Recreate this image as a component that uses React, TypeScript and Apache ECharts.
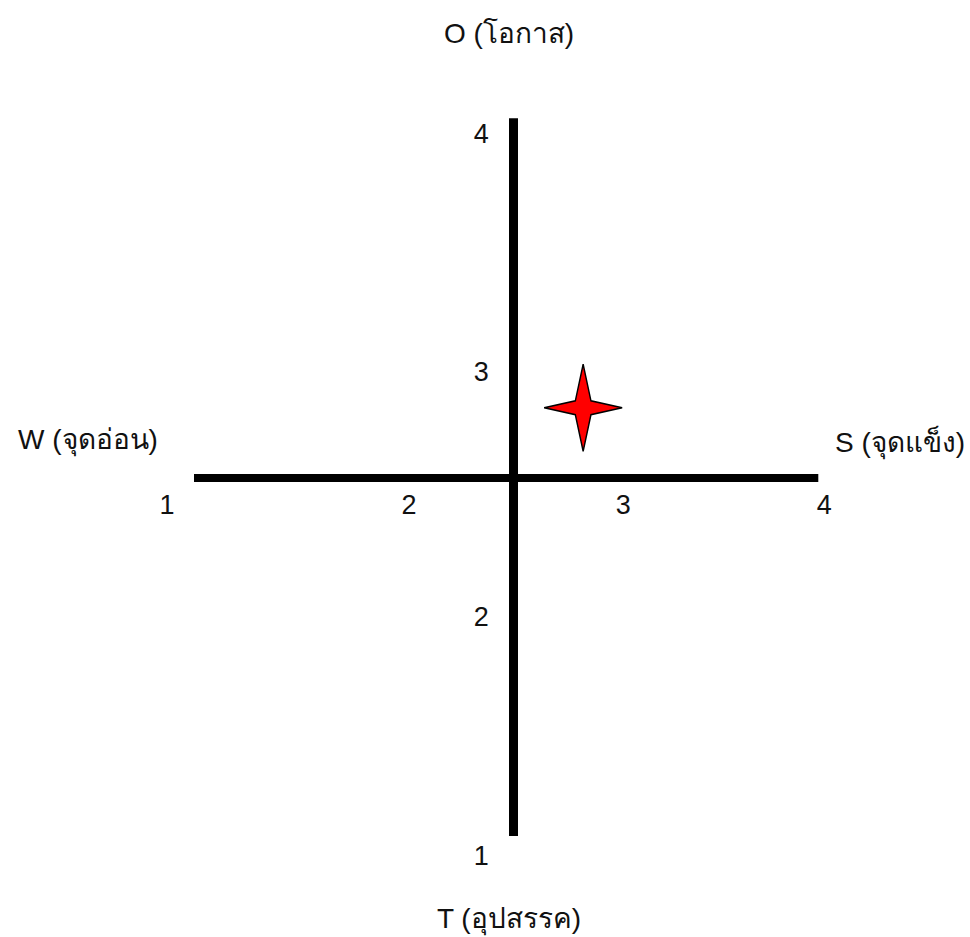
import React, { useEffect, useRef } from "react";
import * as echarts from "echarts";

// ---- data ----
const xTickLabels: string[] = ["1", "2", "3", "4"];
const yTickLabels: string[] = ["1", "2", "3", "4"];
const axisMin = 1;
const axisMax = 4;
const pointData: number[][] = [[2.87, 2.79]];
const titleTop = "O (โอกาส)";
const titleBottom = "T (อุปสรรค)";
const titleLeft = "W (จุดอ่อน)";
const titleRight = "S (จุดแข็ง)";

const FONT = "'Liberation Sans', 'Noto Sans', Arial, sans-serif";

export default function App() {
  const ref = useRef<HTMLDivElement>(null);
  useEffect(() => {
    if (!ref.current) return;
    const chart = echarts.init(ref.current, null, { renderer: "svg" });
    const gridLeft = 194;
    const gridRight = 151.7;
    const gridTop = 118.3;
    const gridBottom = 101;
    const titleSize = 28;
    const option: any = {
      animation: false,
      backgroundColor: "#ffffff",
      textStyle: { fontFamily: FONT },
      grid: { left: gridLeft, right: gridRight, top: gridTop, bottom: gridBottom },
      xAxis: {
        type: "value",
        min: axisMin,
        max: axisMax,
        interval: 1,
        position: "bottom",
        offset: -358.5,
        axisLine: { show: true, lineStyle: { color: "#000", width: 8, cap: "butt" } },
        axisTick: { show: false },
        splitLine: { show: false },
        axisLabel: {
          margin: 14,
          fontSize: 27,
          color: "#111",
          fontFamily: FONT,
          formatter: (v: number) => `{s${v}|${xTickLabels[v - axisMin]}}`,
          rich: {
            s1: { fontSize: 27, fontFamily: FONT, color: "#111", padding: [0, 54, 0, 0] },
            s2: { fontSize: 27, fontFamily: FONT, color: "#111", padding: [0, 0, 0, 14] },
            s3: { fontSize: 27, fontFamily: FONT, color: "#111", padding: [0, 0, 0, 26] },
            s4: { fontSize: 27, fontFamily: FONT, color: "#111", padding: [0, 0, 0, 12] },
          },
        },
      },
      yAxis: {
        type: "value",
        min: axisMin,
        max: axisMax,
        interval: 1,
        position: "left",
        offset: -318.8,
        axisLine: { show: true, lineStyle: { color: "#000", width: 9, cap: "butt" } },
        axisTick: { show: false },
        splitLine: { show: false },
        axisLabel: {
          margin: 24,
          fontSize: 27,
          color: "#111",
          fontFamily: FONT,
          formatter: (v: number) => `{s${v}|${yTickLabels[v - axisMin]}}`,
          rich: {
            s1: { fontSize: 27, fontFamily: FONT, color: "#111", padding: [40, 0, 0, 0] },
            s2: { fontSize: 27, fontFamily: FONT, color: "#111", padding: [41, 0, 0, 0] },
            s3: { fontSize: 27, fontFamily: FONT, color: "#111", padding: [29, 0, 0, 0] },
            s4: { fontSize: 27, fontFamily: FONT, color: "#111", padding: [32, 0, 0, 0] },
          },
        },
      },
      series: [
        {
          type: "scatter",
          data: pointData,
          symbol: "path://M50 0 L60 42 L100 50 L60 58 L50 100 L40 58 L0 50 L40 42 Z",
          symbolSize: [78, 87],
          itemStyle: { color: "#ff0000", borderColor: "#000", borderWidth: 1.5, opacity: 1 },
          z: 5,
        },
      ],
      graphic: [
        {
          type: "text",
          x: 509,
          y: 33,
          style: { text: titleTop, fontSize: titleSize, fontFamily: FONT, fill: "#111", textAlign: "center", textVerticalAlign: "middle" },
        },
        {
          type: "text",
          x: 509,
          y: 918.5,
          style: { text: titleBottom, fontSize: titleSize, fontFamily: FONT, fill: "#111", textAlign: "center", textVerticalAlign: "middle" },
        },
        {
          type: "text",
          x: 88,
          y: 439,
          style: { text: titleLeft, fontSize: titleSize, fontFamily: FONT, fill: "#111", textAlign: "center", textVerticalAlign: "middle" },
        },
        {
          type: "text",
          x: 900,
          y: 442.7,
          style: { text: titleRight, fontSize: titleSize, fontFamily: FONT, fill: "#111", textAlign: "center", textVerticalAlign: "middle" },
        },
      ],
    };
    chart.setOption(option);
    return () => chart.dispose();
  }, []);
  return (
    <div
      ref={ref}
      style={{ position: "fixed", left: 0, top: 0, width: 970, height: 937, background: "#fff" }}
    />
  );
}
